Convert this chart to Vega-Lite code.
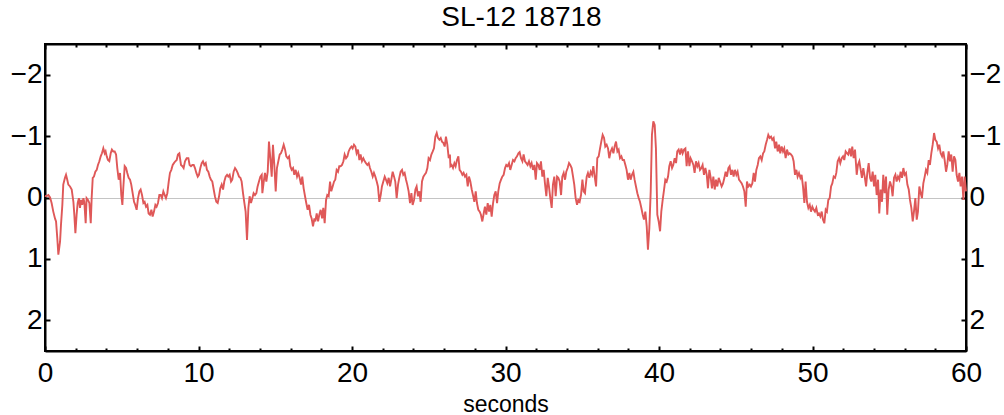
{
  "$schema": "https://vega.github.io/schema/vega-lite/v6.json",
  "width": 921,
  "height": 307,
  "autosize": {"type": "none"},
  "padding": {"left": 45, "top": 44, "right": 38, "bottom": 64},
  "background": "white",
  "title": {"text": "SL-12 18718", "font": "Liberation Sans", "fontSize": 28, "fontWeight": "normal", "color": "black", "anchor": "middle", "frame": "group", "offset": 11, "dx": 16},
  "config": {
    "view": {"stroke": "black", "strokeWidth": 2},
    "axis": {"labelFont": "Liberation Sans", "labelFontSize": 28, "labelColor": "black", "titleFont": "Liberation Sans", "titleColor": "black", "titleFontWeight": "normal", "domainColor": "black", "domainWidth": 2, "tickColor": "black", "tickWidth": 2, "labelOverlap": false, "labelBound": false, "labelFlush": false}
  },
  "data": {"values": [
    {"t":0.00,"v":-0.03},{"t":0.07,"v":-0.02},{"t":0.22,"v":-0.04},{"t":0.33,"v":0.00},{"t":0.43,"v":0.09},{"t":0.54,"v":0.23},{"t":0.65,"v":0.34},{"t":0.72,"v":0.39},{"t":0.80,"v":0.66},{"t":0.87,"v":0.93},{"t":0.98,"v":0.72},{"t":1.04,"v":0.45},{"t":1.13,"v":0.12},{"t":1.19,"v":-0.21},{"t":1.30,"v":-0.32},{"t":1.37,"v":-0.37},{"t":1.45,"v":-0.29},{"t":1.52,"v":-0.21},{"t":1.63,"v":-0.18},{"t":1.74,"v":-0.13},{"t":1.85,"v":0.07},{"t":1.91,"v":0.28},{"t":1.98,"v":0.58},{"t":2.06,"v":0.28},{"t":2.13,"v":0.09},{"t":2.21,"v":0.01},{"t":2.28,"v":0.17},{"t":2.35,"v":0.04},{"t":2.43,"v":0.12},{"t":2.50,"v":0.01},{"t":2.56,"v":0.07},{"t":2.65,"v":0.42},{"t":2.71,"v":0.01},{"t":2.80,"v":0.04},{"t":2.89,"v":0.09},{"t":2.98,"v":0.42},{"t":3.04,"v":0.01},{"t":3.11,"v":-0.32},{"t":3.19,"v":-0.34},{"t":3.28,"v":-0.42},{"t":3.37,"v":-0.45},{"t":3.45,"v":-0.53},{"t":3.54,"v":-0.59},{"t":3.63,"v":-0.67},{"t":3.71,"v":-0.72},{"t":3.80,"v":-0.80},{"t":3.89,"v":-0.72},{"t":3.95,"v":-0.75},{"t":4.02,"v":-0.67},{"t":4.10,"v":-0.61},{"t":4.19,"v":-0.59},{"t":4.28,"v":-0.72},{"t":4.36,"v":-0.78},{"t":4.45,"v":-0.75},{"t":4.54,"v":-0.75},{"t":4.63,"v":-0.70},{"t":4.71,"v":-0.48},{"t":4.80,"v":-0.29},{"t":4.89,"v":-0.40},{"t":4.97,"v":-0.04},{"t":5.04,"v":0.12},{"t":5.10,"v":-0.15},{"t":5.19,"v":-0.51},{"t":5.28,"v":-0.48},{"t":5.36,"v":-0.40},{"t":5.45,"v":-0.32},{"t":5.54,"v":-0.29},{"t":5.62,"v":-0.21},{"t":5.71,"v":-0.07},{"t":5.80,"v":0.07},{"t":5.88,"v":0.12},{"t":5.97,"v":0.20},{"t":6.06,"v":0.01},{"t":6.15,"v":-0.10},{"t":6.23,"v":-0.13},{"t":6.32,"v":-0.04},{"t":6.41,"v":0.09},{"t":6.49,"v":0.07},{"t":6.58,"v":0.15},{"t":6.67,"v":0.12},{"t":6.75,"v":0.26},{"t":6.84,"v":0.28},{"t":6.93,"v":0.20},{"t":7.01,"v":0.31},{"t":7.10,"v":0.23},{"t":7.19,"v":0.12},{"t":7.27,"v":0.15},{"t":7.36,"v":0.09},{"t":7.45,"v":-0.04},{"t":7.54,"v":-0.04},{"t":7.62,"v":0.01},{"t":7.71,"v":-0.10},{"t":7.80,"v":-0.04},{"t":7.88,"v":0.01},{"t":7.97,"v":-0.07},{"t":8.06,"v":-0.26},{"t":8.14,"v":-0.40},{"t":8.23,"v":-0.45},{"t":8.32,"v":-0.53},{"t":8.40,"v":-0.56},{"t":8.49,"v":-0.59},{"t":8.58,"v":-0.61},{"t":8.66,"v":-0.70},{"t":8.75,"v":-0.72},
    {"t":8.86,"v":-0.53},{"t":8.95,"v":-0.51},{"t":9.03,"v":-0.48},{"t":9.12,"v":-0.59},{"t":9.23,"v":-0.64},{"t":9.34,"v":-0.64},{"t":9.42,"v":-0.53},{"t":9.51,"v":-0.51},{"t":9.60,"v":-0.53},{"t":9.69,"v":-0.53},{"t":9.77,"v":-0.48},{"t":9.86,"v":-0.40},{"t":9.95,"v":-0.34},{"t":10.03,"v":-0.37},{"t":10.12,"v":-0.48},{"t":10.21,"v":-0.56},{"t":10.29,"v":-0.59},{"t":10.38,"v":-0.53},{"t":10.47,"v":-0.56},{"t":10.55,"v":-0.45},{"t":10.64,"v":-0.42},{"t":10.73,"v":-0.34},{"t":10.81,"v":-0.29},{"t":10.90,"v":-0.26},{"t":10.99,"v":-0.13},{"t":11.07,"v":-0.02},{"t":11.16,"v":0.07},{"t":11.25,"v":0.09},{"t":11.34,"v":-0.02},{"t":11.42,"v":-0.15},{"t":11.51,"v":-0.21},{"t":11.60,"v":-0.13},{"t":11.68,"v":-0.26},{"t":11.77,"v":-0.34},{"t":11.86,"v":-0.37},{"t":11.94,"v":-0.34},{"t":12.03,"v":-0.37},{"t":12.12,"v":-0.26},{"t":12.20,"v":-0.29},{"t":12.29,"v":-0.42},{"t":12.38,"v":-0.48},{"t":12.46,"v":-0.45},{"t":12.55,"v":-0.40},{"t":12.64,"v":-0.34},{"t":12.73,"v":-0.32},{"t":12.81,"v":-0.26},{"t":12.90,"v":-0.07},{"t":12.99,"v":0.09},{"t":13.07,"v":0.23},{"t":13.16,"v":0.69},{"t":13.25,"v":0.17},{"t":13.33,"v":-0.02},{"t":13.42,"v":0.09},{"t":13.51,"v":0.01},{"t":13.59,"v":-0.07},{"t":13.68,"v":-0.04},{"t":13.77,"v":-0.07},{"t":13.85,"v":-0.18},{"t":13.94,"v":-0.26},{"t":14.03,"v":-0.34},{"t":14.12,"v":-0.37},{"t":14.16,"v":-0.07},{"t":14.25,"v":-0.26},{"t":14.33,"v":-0.40},{"t":14.42,"v":-0.26},{"t":14.51,"v":-0.42},{"t":14.59,"v":-0.91},{"t":14.68,"v":-0.64},{"t":14.77,"v":-0.34},{"t":14.85,"v":-0.86},{"t":14.94,"v":-0.53},{"t":15.03,"v":-0.10},{"t":15.11,"v":-0.48},{"t":15.20,"v":-0.59},{"t":15.29,"v":-0.70},{"t":15.37,"v":-0.72},{"t":15.46,"v":-0.78},{"t":15.55,"v":-0.86},{"t":15.64,"v":-0.78},{"t":15.72,"v":-0.67},{"t":15.81,"v":-0.64},{"t":15.90,"v":-0.67},{"t":15.98,"v":-0.51},{"t":16.07,"v":-0.45},{"t":16.16,"v":-0.48},{"t":16.24,"v":-0.37},{"t":16.33,"v":-0.45},{"t":16.42,"v":-0.34},{"t":16.50,"v":-0.40},{"t":16.59,"v":-0.32},{"t":16.68,"v":-0.21},{"t":16.76,"v":-0.34},{"t":16.85,"v":-0.15},{"t":16.94,"v":-0.02},{"t":17.02,"v":0.09},{"t":17.11,"v":0.20},{"t":17.20,"v":0.12},{"t":17.29,"v":0.28},{"t":17.37,"v":0.34},{"t":17.46,"v":0.47},{"t":17.55,"v":0.34},
    {"t":17.61,"v":0.39},{"t":17.70,"v":0.26},{"t":17.79,"v":0.39},{"t":17.87,"v":0.28},{"t":17.96,"v":0.20},{"t":18.05,"v":0.34},{"t":18.13,"v":0.17},{"t":18.22,"v":0.42},{"t":18.31,"v":0.04},{"t":18.39,"v":-0.04},{"t":18.48,"v":-0.02},{"t":18.57,"v":-0.26},{"t":18.65,"v":-0.10},{"t":18.74,"v":-0.18},{"t":18.83,"v":-0.26},{"t":18.91,"v":-0.29},{"t":19.00,"v":-0.45},{"t":19.09,"v":-0.42},{"t":19.17,"v":-0.51},{"t":19.26,"v":-0.51},{"t":19.35,"v":-0.53},{"t":19.44,"v":-0.59},{"t":19.52,"v":-0.70},{"t":19.61,"v":-0.64},{"t":19.70,"v":-0.67},{"t":19.78,"v":-0.75},{"t":19.87,"v":-0.80},{"t":19.96,"v":-0.83},{"t":20.04,"v":-0.80},{"t":20.13,"v":-0.86},{"t":20.22,"v":-0.83},{"t":20.30,"v":-0.72},{"t":20.39,"v":-0.78},{"t":20.48,"v":-0.61},{"t":20.56,"v":-0.70},{"t":20.65,"v":-0.59},{"t":20.74,"v":-0.64},{"t":20.83,"v":-0.59},{"t":20.91,"v":-0.56},{"t":21.00,"v":-0.53},{"t":21.09,"v":-0.56},{"t":21.17,"v":-0.48},{"t":21.26,"v":-0.42},{"t":21.35,"v":-0.34},{"t":21.43,"v":-0.40},{"t":21.52,"v":-0.34},{"t":21.61,"v":-0.26},{"t":21.69,"v":-0.18},{"t":21.78,"v":0.07},{"t":21.87,"v":-0.04},{"t":21.95,"v":-0.18},{"t":22.04,"v":-0.26},{"t":22.13,"v":-0.34},{"t":22.21,"v":-0.29},{"t":22.30,"v":-0.23},{"t":22.39,"v":-0.32},{"t":22.48,"v":-0.18},{"t":22.56,"v":-0.29},{"t":22.65,"v":-0.42},{"t":22.74,"v":-0.34},{"t":22.82,"v":-0.26},{"t":22.91,"v":0.01},{"t":23.00,"v":-0.21},{"t":23.08,"v":-0.32},{"t":23.17,"v":-0.42},{"t":23.26,"v":-0.45},{"t":23.34,"v":-0.37},{"t":23.43,"v":-0.40},{"t":23.52,"v":-0.29},{"t":23.60,"v":-0.21},{"t":23.69,"v":-0.10},{"t":23.78,"v":0.09},{"t":23.87,"v":-0.07},{"t":23.95,"v":0.12},{"t":24.04,"v":0.04},{"t":24.13,"v":-0.13},{"t":24.21,"v":-0.18},{"t":24.30,"v":-0.02},{"t":24.39,"v":-0.10},{"t":24.47,"v":0.07},{"t":24.56,"v":-0.26},{"t":24.65,"v":-0.34},{"t":24.73,"v":-0.37},{"t":24.82,"v":-0.40},{"t":24.91,"v":-0.48},{"t":24.99,"v":-0.64},{"t":25.08,"v":-0.61},{"t":25.17,"v":-0.70},{"t":25.26,"v":-0.75},{"t":25.34,"v":-0.80},{"t":25.43,"v":-0.99},{"t":25.52,"v":-1.05},{"t":25.60,"v":-0.97},{"t":25.69,"v":-0.94},{"t":25.78,"v":-0.97},{"t":25.86,"v":-0.91},{"t":25.95,"v":-0.89},{"t":26.04,"v":-0.83},{"t":26.12,"v":-0.99},{"t":26.21,"v":-0.86},{"t":26.30,"v":-0.64},{"t":26.38,"v":-0.70},
    {"t":26.41,"v":-0.51},{"t":26.49,"v":-0.53},{"t":26.58,"v":-0.48},{"t":26.67,"v":-0.56},{"t":26.75,"v":-0.51},{"t":26.84,"v":-0.61},{"t":26.93,"v":-0.67},{"t":27.01,"v":-0.45},{"t":27.10,"v":-0.42},{"t":27.19,"v":-0.37},{"t":27.27,"v":-0.40},{"t":27.36,"v":-0.34},{"t":27.45,"v":-0.37},{"t":27.54,"v":-0.18},{"t":27.62,"v":-0.34},{"t":27.71,"v":-0.26},{"t":27.80,"v":-0.13},{"t":27.88,"v":-0.04},{"t":27.97,"v":0.07},{"t":28.06,"v":-0.10},{"t":28.14,"v":0.09},{"t":28.23,"v":0.20},{"t":28.32,"v":0.23},{"t":28.40,"v":0.28},{"t":28.49,"v":0.39},{"t":28.58,"v":0.26},{"t":28.66,"v":0.15},{"t":28.75,"v":0.28},{"t":28.84,"v":0.09},{"t":28.93,"v":0.23},{"t":29.01,"v":0.12},{"t":29.10,"v":0.31},{"t":29.19,"v":0.09},{"t":29.27,"v":-0.04},{"t":29.36,"v":-0.10},{"t":29.45,"v":0.09},{"t":29.53,"v":-0.10},{"t":29.62,"v":-0.23},{"t":29.71,"v":-0.29},{"t":29.79,"v":-0.34},{"t":29.88,"v":-0.37},{"t":29.97,"v":-0.48},{"t":30.05,"v":-0.53},{"t":30.14,"v":-0.51},{"t":30.23,"v":-0.56},{"t":30.31,"v":-0.45},{"t":30.40,"v":-0.53},{"t":30.49,"v":-0.61},{"t":30.58,"v":-0.59},{"t":30.66,"v":-0.64},{"t":30.75,"v":-0.67},{"t":30.84,"v":-0.72},{"t":30.92,"v":-0.74},{"t":31.01,"v":-0.64},{"t":31.10,"v":-0.59},{"t":31.18,"v":-0.70},{"t":31.27,"v":-0.59},{"t":31.36,"v":-0.56},{"t":31.44,"v":-0.53},{"t":31.53,"v":-0.59},{"t":31.62,"v":-0.51},{"t":31.70,"v":-0.56},{"t":31.79,"v":-0.45},{"t":31.88,"v":-0.53},{"t":31.97,"v":-0.29},{"t":32.05,"v":-0.56},{"t":32.14,"v":-0.53},{"t":32.23,"v":-0.45},{"t":32.31,"v":-0.59},{"t":32.40,"v":-0.34},{"t":32.49,"v":-0.45},{"t":32.57,"v":-0.23},{"t":32.66,"v":-0.02},{"t":32.75,"v":-0.32},{"t":32.83,"v":-0.18},{"t":32.92,"v":0.01},{"t":33.01,"v":0.17},{"t":33.09,"v":-0.21},{"t":33.18,"v":-0.34},{"t":33.27,"v":-0.02},{"t":33.36,"v":-0.34},{"t":33.44,"v":-0.32},{"t":33.53,"v":-0.26},{"t":33.62,"v":-0.04},{"t":33.70,"v":-0.34},{"t":33.79,"v":-0.40},{"t":33.88,"v":-0.29},{"t":33.96,"v":-0.42},{"t":34.05,"v":-0.48},{"t":34.14,"v":-0.56},{"t":34.22,"v":-0.53},{"t":34.31,"v":-0.48},{"t":34.40,"v":-0.34},{"t":34.48,"v":-0.21},{"t":34.57,"v":0.01},{"t":34.66,"v":0.12},{"t":34.74,"v":0.04},{"t":34.83,"v":0.07},{"t":34.92,"v":-0.04},{"t":35.01,"v":-0.29},{"t":35.09,"v":-0.10},{"t":35.18,"v":-0.07},
    {"t":35.20,"v":-0.13},{"t":35.29,"v":-0.34},{"t":35.37,"v":-0.40},{"t":35.46,"v":-0.32},{"t":35.55,"v":-0.42},{"t":35.64,"v":-0.37},{"t":35.72,"v":-0.51},{"t":35.81,"v":-0.34},{"t":35.90,"v":-0.18},{"t":35.98,"v":-0.64},{"t":36.07,"v":-0.67},{"t":36.16,"v":-0.80},{"t":36.24,"v":-0.91},{"t":36.33,"v":-1.02},{"t":36.42,"v":-0.97},{"t":36.50,"v":-0.83},{"t":36.59,"v":-0.86},{"t":36.68,"v":-0.80},{"t":36.76,"v":-0.64},{"t":36.85,"v":-0.75},{"t":36.94,"v":-0.80},{"t":37.03,"v":-0.72},{"t":37.11,"v":-0.83},{"t":37.20,"v":-0.91},{"t":37.29,"v":-0.75},{"t":37.37,"v":-0.78},{"t":37.46,"v":-0.64},{"t":37.55,"v":-0.67},{"t":37.63,"v":-0.61},{"t":37.72,"v":-0.61},{"t":37.81,"v":-0.53},{"t":37.89,"v":-0.45},{"t":37.98,"v":-0.29},{"t":38.07,"v":-0.40},{"t":38.15,"v":-0.29},{"t":38.24,"v":-0.37},{"t":38.33,"v":-0.42},{"t":38.41,"v":-0.29},{"t":38.50,"v":-0.18},{"t":38.59,"v":-0.07},{"t":38.68,"v":0.01},{"t":38.76,"v":0.07},{"t":38.85,"v":0.17},{"t":38.94,"v":0.28},{"t":39.02,"v":0.36},{"t":39.11,"v":0.23},{"t":39.20,"v":0.47},{"t":39.28,"v":0.85},{"t":39.37,"v":0.50},{"t":39.46,"v":-0.10},{"t":39.54,"v":-1.02},{"t":39.63,"v":-1.24},{"t":39.72,"v":-1.18},{"t":39.80,"v":-0.80},{"t":39.89,"v":0.28},{"t":39.98,"v":0.39},{"t":40.07,"v":0.55},{"t":40.15,"v":0.23},{"t":40.24,"v":0.04},{"t":40.33,"v":-0.13},{"t":40.41,"v":-0.29},{"t":40.50,"v":-0.26},{"t":40.59,"v":-0.34},{"t":40.67,"v":-0.51},{"t":40.76,"v":-0.59},{"t":40.85,"v":-0.48},{"t":40.93,"v":-0.53},{"t":41.02,"v":-0.64},{"t":41.11,"v":-0.56},{"t":41.19,"v":-0.75},{"t":41.28,"v":-0.78},{"t":41.37,"v":-0.70},{"t":41.46,"v":-0.80},{"t":41.54,"v":-0.72},{"t":41.63,"v":-0.78},{"t":41.72,"v":-0.80},{"t":41.80,"v":-0.51},{"t":41.89,"v":-0.75},{"t":41.98,"v":-0.51},{"t":42.06,"v":-0.64},{"t":42.15,"v":-0.59},{"t":42.24,"v":-0.53},{"t":42.32,"v":-0.40},{"t":42.41,"v":-0.59},{"t":42.50,"v":-0.51},{"t":42.58,"v":-0.56},{"t":42.67,"v":-0.45},{"t":42.76,"v":-0.48},{"t":42.84,"v":-0.53},{"t":42.93,"v":-0.37},{"t":43.02,"v":-0.48},{"t":43.11,"v":-0.37},{"t":43.19,"v":-0.15},{"t":43.28,"v":-0.45},{"t":43.37,"v":-0.32},{"t":43.45,"v":-0.15},{"t":43.54,"v":-0.34},{"t":43.63,"v":-0.13},{"t":43.71,"v":-0.29},{"t":43.80,"v":-0.18},{"t":43.89,"v":-0.32},{"t":43.97,"v":-0.26},
    {"t":44.08,"v":-0.18},{"t":44.17,"v":-0.23},{"t":44.26,"v":-0.32},{"t":44.34,"v":-0.42},{"t":44.43,"v":-0.34},{"t":44.52,"v":-0.48},{"t":44.60,"v":-0.51},{"t":44.69,"v":-0.37},{"t":44.78,"v":-0.45},{"t":44.86,"v":-0.34},{"t":44.95,"v":-0.45},{"t":45.04,"v":-0.37},{"t":45.12,"v":-0.42},{"t":45.21,"v":-0.29},{"t":45.30,"v":-0.26},{"t":45.39,"v":-0.23},{"t":45.47,"v":-0.18},{"t":45.56,"v":-0.10},{"t":45.65,"v":0.15},{"t":45.73,"v":-0.26},{"t":45.82,"v":-0.18},{"t":45.91,"v":-0.21},{"t":45.99,"v":-0.18},{"t":46.08,"v":-0.23},{"t":46.17,"v":-0.40},{"t":46.25,"v":-0.26},{"t":46.34,"v":-0.45},{"t":46.43,"v":-0.53},{"t":46.51,"v":-0.64},{"t":46.60,"v":-0.67},{"t":46.69,"v":-0.61},{"t":46.78,"v":-0.72},{"t":46.86,"v":-0.75},{"t":46.95,"v":-0.86},{"t":47.04,"v":-0.94},{"t":47.12,"v":-1.02},{"t":47.21,"v":-0.97},{"t":47.30,"v":-0.99},{"t":47.38,"v":-0.94},{"t":47.47,"v":-0.97},{"t":47.56,"v":-0.80},{"t":47.64,"v":-0.91},{"t":47.73,"v":-0.75},{"t":47.82,"v":-0.86},{"t":47.90,"v":-0.72},{"t":47.99,"v":-0.83},{"t":48.08,"v":-0.75},{"t":48.16,"v":-0.80},{"t":48.25,"v":-0.64},{"t":48.34,"v":-0.78},{"t":48.43,"v":-0.70},{"t":48.51,"v":-0.72},{"t":48.60,"v":-0.70},{"t":48.69,"v":-0.67},{"t":48.77,"v":-0.59},{"t":48.86,"v":-0.37},{"t":48.95,"v":-0.45},{"t":49.03,"v":-0.34},{"t":49.12,"v":-0.40},{"t":49.21,"v":-0.32},{"t":49.29,"v":-0.37},{"t":49.38,"v":-0.18},{"t":49.47,"v":0.09},{"t":49.55,"v":-0.26},{"t":49.64,"v":0.07},{"t":49.73,"v":0.17},{"t":49.82,"v":0.12},{"t":49.90,"v":0.23},{"t":49.99,"v":0.15},{"t":50.08,"v":0.20},{"t":50.16,"v":0.23},{"t":50.25,"v":0.17},{"t":50.34,"v":0.28},{"t":50.42,"v":0.26},{"t":50.51,"v":0.31},{"t":50.60,"v":0.23},{"t":50.68,"v":0.36},{"t":50.77,"v":0.42},{"t":50.86,"v":0.20},{"t":50.94,"v":0.23},{"t":51.03,"v":0.04},{"t":51.12,"v":0.01},{"t":51.21,"v":-0.18},{"t":51.29,"v":-0.23},{"t":51.38,"v":-0.34},{"t":51.47,"v":-0.32},{"t":51.55,"v":-0.40},{"t":51.64,"v":-0.59},{"t":51.73,"v":-0.64},{"t":51.81,"v":-0.56},{"t":51.90,"v":-0.64},{"t":51.99,"v":-0.67},{"t":52.07,"v":-0.61},{"t":52.16,"v":-0.75},{"t":52.25,"v":-0.72},{"t":52.33,"v":-0.70},{"t":52.42,"v":-0.80},{"t":52.51,"v":-0.67},{"t":52.59,"v":-0.83},{"t":52.68,"v":-0.64},{"t":52.77,"v":-0.78},
    {"t":52.88,"v":-0.37},{"t":52.96,"v":-0.53},{"t":53.05,"v":-0.59},{"t":53.14,"v":-0.45},{"t":53.22,"v":-0.32},{"t":53.31,"v":-0.48},{"t":53.40,"v":-0.34},{"t":53.49,"v":-0.18},{"t":53.57,"v":-0.40},{"t":53.66,"v":-0.56},{"t":53.75,"v":-0.32},{"t":53.83,"v":-0.26},{"t":53.92,"v":-0.42},{"t":54.01,"v":-0.18},{"t":54.09,"v":-0.37},{"t":54.18,"v":-0.04},{"t":54.27,"v":-0.29},{"t":54.35,"v":0.26},{"t":54.44,"v":-0.13},{"t":54.53,"v":0.07},{"t":54.61,"v":-0.37},{"t":54.70,"v":-0.07},{"t":54.79,"v":-0.34},{"t":54.87,"v":0.28},{"t":54.96,"v":-0.13},{"t":55.05,"v":-0.26},{"t":55.14,"v":-0.18},{"t":55.22,"v":-0.02},{"t":55.31,"v":-0.32},{"t":55.40,"v":-0.37},{"t":55.48,"v":-0.26},{"t":55.57,"v":-0.34},{"t":55.66,"v":-0.29},{"t":55.74,"v":-0.42},{"t":55.83,"v":-0.32},{"t":55.92,"v":-0.48},{"t":56.00,"v":-0.37},{"t":56.09,"v":-0.40},{"t":56.18,"v":-0.21},{"t":56.27,"v":-0.13},{"t":56.35,"v":0.04},{"t":56.44,"v":0.17},{"t":56.53,"v":0.39},{"t":56.61,"v":0.23},{"t":56.70,"v":0.01},{"t":56.79,"v":0.36},{"t":56.87,"v":0.23},{"t":56.96,"v":-0.18},{"t":57.05,"v":-0.07},{"t":57.13,"v":0.01},{"t":57.22,"v":-0.23},{"t":57.31,"v":-0.34},{"t":57.39,"v":-0.45},{"t":57.48,"v":-0.40},{"t":57.57,"v":-0.61},{"t":57.65,"v":-0.53},{"t":57.74,"v":-0.72},{"t":57.83,"v":-0.86},{"t":57.92,"v":-1.05},{"t":58.00,"v":-0.94},{"t":58.09,"v":-0.91},{"t":58.18,"v":-0.80},{"t":58.26,"v":-0.86},{"t":58.35,"v":-0.72},{"t":58.44,"v":-0.67},{"t":58.52,"v":-0.75},{"t":58.61,"v":-0.61},{"t":58.70,"v":-0.42},{"t":58.78,"v":-0.53},{"t":58.87,"v":-0.75},{"t":58.96,"v":-0.59},{"t":59.04,"v":-0.70},{"t":59.13,"v":-0.42},{"t":59.22,"v":-0.67},{"t":59.31,"v":-0.61},{"t":59.39,"v":-0.37},{"t":59.48,"v":-0.26},{"t":59.57,"v":-0.40},{"t":59.65,"v":-0.18},{"t":59.74,"v":-0.34},{"t":59.83,"v":0.04},{"t":59.91,"v":-0.34},{"t":60.00,"v":-0.10}
  ]},
  "layer": [
    {
      "mark": {"type": "line", "color": "#df5858", "strokeWidth": 1.9},
      "encoding": {
        "x": {"field": "t", "type": "quantitative", "scale": {"domain": [0, 60], "nice": false, "zero": false},
          "axis": {"orient": "bottom", "values": [0,2,4,6,8,10,12,14,16,18,20,22,24,26,28,30,32,34,36,38,40,42,44,46,48,50,52,54,56,58,60],
            "labelExpr": "datum.value % 10 === 0 ? datum.label : ''",
            "tickSize": {"condition": {"test": "datum.value % 10 === 0", "value": -5}, "value": -3},
            "labelPadding": 13, "grid": false,
            "title": "seconds", "titleFontSize": 23, "titleBaseline": "alphabetic", "titleY": 60}},
        "y": {"field": "v", "type": "quantitative", "scale": {"domain": [-2.5, 2.5], "reverse": true, "nice": false, "zero": false},
          "axis": {"orient": "left", "values": [-2,-1,0,1,2], "tickSize": -5, "labelPadding": 8, "title": null,
            "grid": true, "gridColor": "#c4c4c4", "gridWidth": 1,
            "gridOpacity": {"condition": {"test": "datum.value === 0", "value": 1}, "value": 0}}}
      }
    },
    {
      "mark": {"type": "line", "opacity": 0},
      "encoding": {
        "x": {"field": "t", "type": "quantitative",
          "axis": {"orient": "top", "values": [0,2,4,6,8,10,12,14,16,18,20,22,24,26,28,30,32,34,36,38,40,42,44,46,48,50,52,54,56,58,60],
            "labels": false, "tickSize": {"condition": {"test": "datum.value % 10 === 0", "value": -5}, "value": -3}, "grid": false, "title": null}},
        "y": {"field": "v", "type": "quantitative",
          "axis": {"orient": "right", "values": [-2,-1,0,1,2], "tickSize": -5, "labelPadding": 8, "grid": false, "title": null}}
      }
    }
  ],
  "resolve": {"axis": {"x": "independent", "y": "independent"}}
}
